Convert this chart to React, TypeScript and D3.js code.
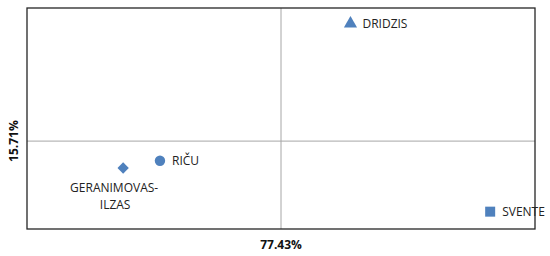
import React from "react";
import * as d3 from "d3";

const names = ["GERANIMOVAS-ILZAS", "RIČU", "DRIDZIS", "SVENTE"];
const xValues = [65.0, 67.9, 82.9, 93.9];
const yValues = [10.9, 12.2, 36.7, 3.1];
const symbols = ["diamond", "circle", "triangle", "square"];
const xMean = 77.43;
const yMean = 15.71;
const xLabel = "77.43%";
const yLabel = "15.71%";

const W = 550, H = 256;
const left = 27, right = 535, top = 8, bottom = 229;
const blue = "#4F81BD";

export default function App() {
  const x = d3.scaleLinear().domain([57.43, 97.43]).range([left, right]);
  const y = d3.scaleLinear().domain([0, 39.5]).range([bottom, top]);
  const symMap: Record<string, any> = {
    diamond: d3.symbolSquare,
    circle: d3.symbolCircle,
    triangle: d3.symbolTriangle,
    square: d3.symbolSquare,
  };
  const sizes: Record<string, number> = { diamond: 64, circle: 85, triangle: 75, square: 100 };
  const font = "'Open Sans', sans-serif";
  return (
    <svg width={W} height={H} style={{ position: "absolute", left: 0, top: 0, background: "#fff" }}>
      <line x1={x(xMean)} x2={x(xMean)} y1={top} y2={bottom} stroke="#A6A6A6" strokeWidth={1} />
      <line x1={left} x2={right} y1={y(yMean)} y2={y(yMean)} stroke="#A6A6A6" strokeWidth={1} />
      <rect x={left} y={top} width={right - left} height={bottom - top} fill="none" stroke="#262626" strokeWidth={1.3} />
      {names.map((n, i) => {
        const cx = x(xValues[i]);
        const cy = y(yValues[i]);
        const path = d3.symbol().type(symMap[symbols[i]]).size(sizes[symbols[i]])();
        const rot = symbols[i] === "diamond" ? " rotate(45)" : "";
        return (
          <g key={n}>
            <path d={path || ""} transform={`translate(${cx},${cy})${rot}`} fill={blue} />
            {i === 0 ? (
              <text x={cx - 9} y={cy + 24} textAnchor="middle" fontSize={12} fontFamily={font} fill="#222">
                <tspan x={cx - 9}>GERANIMOVAS-</tspan>
                <tspan x={cx - 8} dy={17}>ILZAS</tspan>
              </text>
            ) : (
              <text x={cx + 12} y={cy} dy="0.35em" fontSize={12} fontFamily={font} fill="#222">{n}</text>
            )}
          </g>
        );
      })}
      <text x={x(xMean)} y={245} dy="0.35em" textAnchor="middle" fontSize={12} fontWeight="bold" fontFamily={font} fill="#111">{xLabel}</text>
      <text transform={`translate(14,${y(yMean)}) rotate(-90)`} dy="0.35em" textAnchor="middle" fontSize={12} fontWeight="bold" fontFamily={font} fill="#111">{yLabel}</text>
    </svg>
  );
}
